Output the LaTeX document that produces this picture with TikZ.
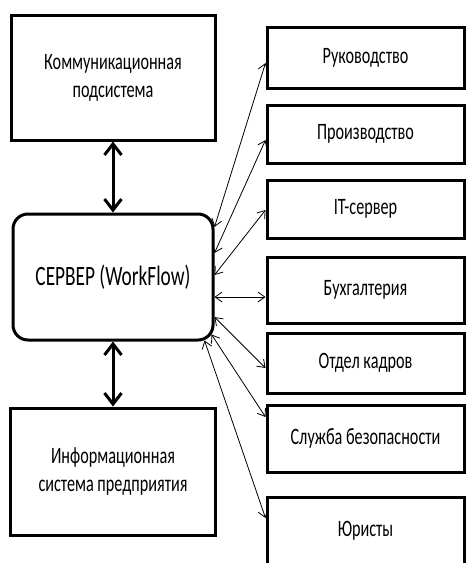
\documentclass[tikz,border=0pt]{standalone}
\usepackage{fontspec}
\setmainfont{Carlito}[FakeStretch=0.69]
\usetikzlibrary{arrows.meta}
\tikzset{blk/.style={draw, line width=3pt, inner sep=0pt, align=center, font=\fontsize{23.5}{28}\selectfont},
  dep/.style={blk, minimum width=197pt},
  thin/.style={line width=0.8pt, {Straight Barb[length=7pt,width=10pt]}-{Straight Barb[length=7pt,width=10pt]}},
  thick/.style={line width=3pt, {Straight Barb[length=11pt,width=17pt]}-{Straight Barb[length=11pt,width=17pt]}}}

\begin{document}
\begin{tikzpicture}[x=1pt, y=-1pt]
\useasboundingbox (0,0) rectangle (467,563);
\clip (0,0) rectangle (467,563);
\node[blk, minimum width=204pt, minimum height=125pt] (kom) at (113,77.5) {Коммуникационная\\подсистема};
\node[blk, rounded corners=15pt, minimum width=200pt, minimum height=126pt, font=\fontsize{28}{32}\selectfont] (srv) at (113,277) {СЕРВЕР (WorkFlow)};
\node[blk, minimum width=205pt, minimum height=127pt] (inf) at (113,471.5) {Информационная\\система предприятия};
\node[dep, minimum height=61pt] (rk) at (365.5,57.5) {Руководство};
\node[dep, minimum height=58pt] (pr) at (365.5,134) {Производство};
\node[dep, minimum height=58pt] (it) at (365.5,209) {IT-сервер};
\node[dep, minimum height=66pt] (bu) at (365.5,290) {Бухгалтерия};
\node[dep, minimum height=60pt] (ok) at (365.5,363) {Отдел кадров};
\node[dep, minimum height=67pt] (sb) at (365.5,438.5) {Служба безопасности};
\node[dep, minimum height=68pt] (yu) at (365.5,531) {Юристы};
\draw[thick] (kom.south) -- (srv.north);
\draw[thick] (srv.south) -- (inf.north);
\draw[thin] (srv.east |- 0,227) -- (rk.west |- 0,63);
\draw[thin] (srv.east |- 0,253) -- (pr.west |- 0,140);
\draw[thin] (srv.east |- 0,275) -- (it.west |- 0,210);
\draw[thin] (srv.east |- 0,297) -- (bu.west |- 0,297);
\draw[thin] (srv.east |- 0,317) -- (ok.west |- 0,368);
\draw[thin] ([xshift=-3pt,yshift=7pt]srv.south east) -- (sb.west |- 0,417);
\draw[thin] ([xshift=-10pt,yshift=1pt]srv.south east) -- (yu.west |- 0,518);
\end{tikzpicture}
\end{document}
